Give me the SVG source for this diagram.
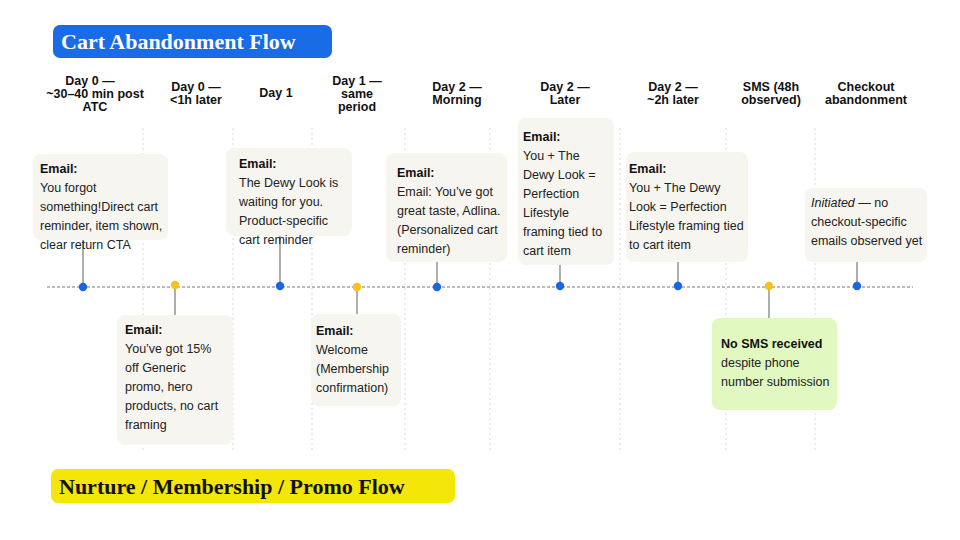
<svg xmlns="http://www.w3.org/2000/svg" width="960" height="540" viewBox="0 0 960 540">
<style>
.t{font-family:"Liberation Serif",serif;font-weight:bold;font-size:22px}
.h{font-family:"Liberation Sans",Arial,sans-serif;font-weight:bold;font-size:12.5px;text-anchor:middle;fill:#111}
.b{font-family:"Liberation Sans",Arial,sans-serif;font-size:12.5px;fill:#222}
.bb{font-weight:bold;fill:#111}
.card{fill:#f6f5f0}
.sms{fill:#e1f8c0}
.stem{stroke:#777;stroke-width:1.2}
.sep{stroke:#e6e6e6;stroke-width:1.5;stroke-dasharray:2 3}
.blue{fill:#1a66e0}.yel{fill:#f7c21b}
</style>
<rect width="960" height="540" fill="#fff"/>
<g id="separators">
<line class="sep" x1="143" y1="128" x2="143" y2="452"/><line class="sep" x1="233" y1="128" x2="233" y2="452"/>
<line class="sep" x1="312" y1="128" x2="312" y2="452"/><line class="sep" x1="405" y1="128" x2="405" y2="452"/>
<line class="sep" x1="490" y1="128" x2="490" y2="452"/><line class="sep" x1="620" y1="128" x2="620" y2="452"/>
<line class="sep" x1="726" y1="128" x2="726" y2="452"/><line class="sep" x1="815" y1="128" x2="815" y2="452"/>
</g>
<g id="title-cart"><rect x="53" y="25" width="279" height="33" rx="7" fill="#1a6be6"/><text class="t" x="61" y="49" fill="#fff">Cart Abandonment Flow</text></g>
<g id="title-nurture"><rect x="51" y="469" width="404" height="34" rx="7" fill="#f5e60a"/><text class="t" x="59" y="494" fill="#111">Nurture / Membership / Promo Flow</text></g>
<g id="headers">
<text class="h" x="90" y="85">Day 0 —</text><text class="h" x="95" y="98">~30–40 min post</text><text class="h" x="95" y="111">ATC</text>
<text class="h" x="196" y="91">Day 0 —</text><text class="h" x="196" y="104">&lt;1h later</text>
<text class="h" x="276" y="97">Day 1</text>
<text class="h" x="357" y="85">Day 1 —</text><text class="h" x="357" y="98">same</text><text class="h" x="357" y="111">period</text>
<text class="h" x="457" y="91">Day 2 —</text><text class="h" x="457" y="104">Morning</text>
<text class="h" x="565" y="91">Day 2 —</text><text class="h" x="565" y="104">Later</text>
<text class="h" x="673" y="91">Day 2 —</text><text class="h" x="673" y="104">~2h later</text>
<text class="h" x="771" y="91">SMS (48h</text><text class="h" x="771" y="104">observed)</text>
<text class="h" x="866" y="91">Checkout</text><text class="h" x="866" y="104">abandonment</text>
</g>
<g id="connectors">
<line x1="47" y1="287" x2="913" y2="287" stroke="#777" stroke-width="1" stroke-dasharray="3 2"/>
<line class="stem" x1="83" y1="240" x2="83" y2="287"/><line class="stem" x1="175" y1="287" x2="175" y2="315"/>
<line class="stem" x1="280" y1="236" x2="280" y2="287"/><line class="stem" x1="357" y1="287" x2="357" y2="314"/>
<line class="stem" x1="437" y1="262" x2="437" y2="287"/><line class="stem" x1="560" y1="265" x2="560" y2="287"/>
<line class="stem" x1="678" y1="262" x2="678" y2="287"/><line class="stem" x1="769" y1="287" x2="769" y2="318"/>
<line class="stem" x1="857" y1="262" x2="857" y2="287"/>
</g>
<g id="dots">
<circle class="blue" cx="83" cy="287" r="4.2"/><circle class="yel" cx="175" cy="285" r="4.2"/>
<circle class="blue" cx="280" cy="286" r="4.2"/><circle class="yel" cx="357" cy="287" r="4.2"/>
<circle class="blue" cx="437" cy="287" r="4.2"/><circle class="blue" cx="560" cy="286" r="4.2"/>
<circle class="blue" cx="678" cy="286" r="4.2"/><circle class="yel" cx="769" cy="286" r="4.2"/>
<circle class="blue" cx="857" cy="286" r="4.2"/>
</g>
<g id="n1"><rect class="card" x="33" y="154" width="135" height="86" rx="8"/>
<text class="b" x="40" y="173"><tspan class="bb">Email:</tspan><tspan x="40" dy="19">You forgot</tspan><tspan x="40" dy="19">something!Direct cart</tspan><tspan x="40" dy="19">reminder, item shown,</tspan><tspan x="40" dy="19">clear return CTA</tspan></text></g>
<g id="n2"><rect class="card" x="117" y="315" width="116" height="130" rx="8"/>
<text class="b" x="125" y="334"><tspan class="bb">Email:</tspan><tspan x="125" dy="19">You’ve got 15%</tspan><tspan x="125" dy="19">off Generic</tspan><tspan x="125" dy="19">promo, hero</tspan><tspan x="125" dy="19">products, no cart</tspan><tspan x="125" dy="19">framing</tspan></text></g>
<g id="n3"><rect class="card" x="226" y="148" width="126" height="88" rx="8"/>
<text class="b" x="239" y="168"><tspan class="bb">Email:</tspan><tspan x="239" dy="19">The Dewy Look is</tspan><tspan x="239" dy="19">waiting for you.</tspan><tspan x="239" dy="19">Product-specific</tspan><tspan x="239" dy="19">cart reminder</tspan></text></g>
<g id="n4"><rect class="card" x="311" y="314" width="90" height="92" rx="8"/>
<text class="b" x="316" y="335"><tspan class="bb">Email:</tspan><tspan x="316" dy="19">Welcome</tspan><tspan x="316" dy="19">(Membership</tspan><tspan x="316" dy="19">confirmation)</tspan></text></g>
<g id="n5"><rect class="card" x="386" y="153" width="121" height="109" rx="8"/>
<text class="b" x="397" y="177"><tspan class="bb">Email:</tspan><tspan x="397" dy="19">Email: You’ve got</tspan><tspan x="397" dy="19">great taste, Adlina.</tspan><tspan x="397" dy="19">(Personalized cart</tspan><tspan x="397" dy="19">reminder)</tspan></text></g>
<g id="n6"><rect class="card" x="518" y="118" width="96" height="147" rx="8"/>
<text class="b" x="523" y="141"><tspan class="bb">Email:</tspan><tspan x="523" dy="19">You + The</tspan><tspan x="523" dy="19">Dewy Look =</tspan><tspan x="523" dy="19">Perfection</tspan><tspan x="523" dy="19">Lifestyle</tspan><tspan x="523" dy="19">framing tied to</tspan><tspan x="523" dy="19">cart item</tspan></text></g>
<g id="n7"><rect class="card" x="626" y="152" width="122" height="110" rx="8"/>
<text class="b" x="629" y="173"><tspan class="bb">Email:</tspan><tspan x="629" dy="19">You + The Dewy</tspan><tspan x="629" dy="19">Look = Perfection</tspan><tspan x="629" dy="19">Lifestyle framing tied</tspan><tspan x="629" dy="19">to cart item</tspan></text></g>
<g id="n8"><rect class="sms" x="712" y="318" width="125" height="92" rx="8"/>
<text class="b" x="721" y="348"><tspan class="bb">No SMS received</tspan><tspan x="721" dy="19">despite phone</tspan><tspan x="721" dy="19">number submission</tspan></text></g>
<g id="n9"><rect class="card" x="805" y="188" width="122" height="74" rx="8"/>
<text class="b" x="811" y="207"><tspan font-style="italic">Initiated</tspan> — no<tspan x="811" dy="19">checkout-specific</tspan><tspan x="811" dy="19">emails observed yet</tspan></text></g>
</svg>
